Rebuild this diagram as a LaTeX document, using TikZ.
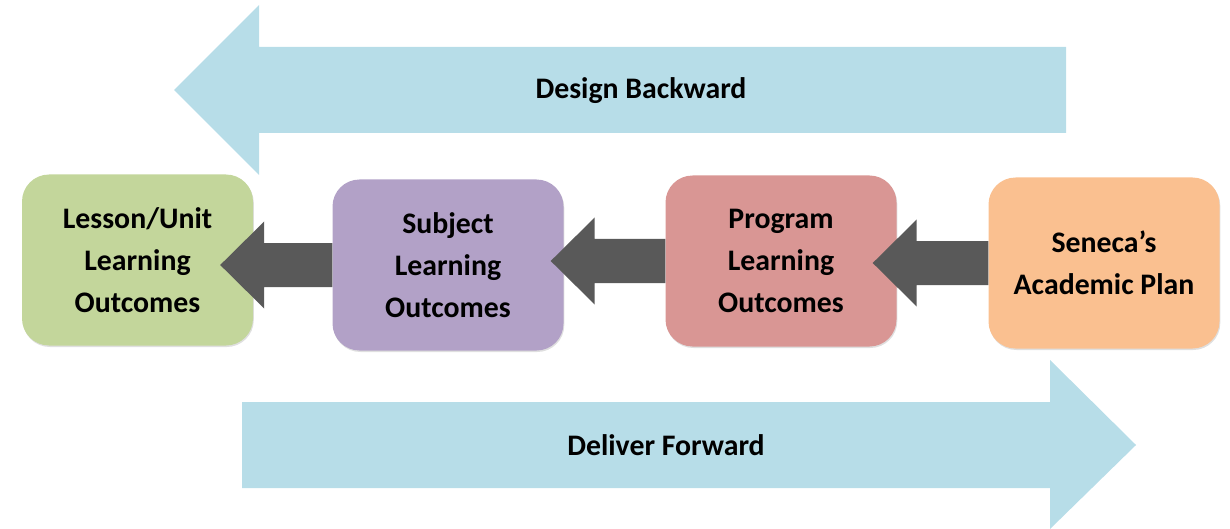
\documentclass[tikz,border=0pt]{standalone}
\usepackage{fontspec}
\setmainfont{Carlito}
\usetikzlibrary{calc,shadows}
\definecolor{lblue}{HTML}{B7DDE8}
\definecolor{bgreen}{HTML}{C3D69B}
\definecolor{bpurple}{HTML}{B2A1C7}
\definecolor{bred}{HTML}{D99694}
\definecolor{borange}{HTML}{FAC090}
\definecolor{darr}{HTML}{595959}
\tikzset{
  box/.style={rounded corners=27pt, minimum width=231pt, minimum height=171pt, align=center,
    font=\bfseries\fontsize{29.8}{42}\selectfont, text=black, inner sep=0pt,
    drop shadow={opacity=0.25, shadow xshift=0.8pt, shadow yshift=-1.5pt}},
  bigarrow/.style={fill=lblue},
  darkarrow/.style={fill=darr},
  lbl/.style={font=\bfseries\fontsize{29.8}{42}\selectfont, text=black}
}
\newcommand{\darrow}[3]{%
  \fill[darkarrow] let \p1=(#1.west), \p2=(#2.east) in
    (\x2-#3,\y1) -- (\x2-#3+44,\y1+43.5) -- (\x2-#3+44,\y1+22) -- (\x1,\y1+22)
    -- (\x1,\y1-22) -- (\x2-#3+44,\y1-22) -- (\x2-#3+44,\y1-43.5) -- cycle;}
\begin{document}
\begin{tikzpicture}[x=1pt,y=-1pt]
\useasboundingbox (0,0) rectangle (1230,529);
% big arrows
\fill[bigarrow] (174,90) -- (259,5) -- (259,47) -- (1066,47) -- (1066,133) -- (259,133) -- (259,175) -- cycle;
\node[lbl] (back) at (641,91) {Design Backward};
\fill[bigarrow] (1136,445) -- (1050,360) -- (1050,402) -- (242,402) -- (242,488) -- (1050,488) -- (1050,529) -- cycle;
\node[lbl] (fwd) at (666,445) {Deliver Forward};
% boxes
\node[box, fill=bgreen] (lesson) at (137.5,260) {Lesson/Unit\\Learning\\Outcomes};
\node[box, fill=bpurple] (subject) at (448,265) {Subject\\Learning\\Outcomes};
\node[box, fill=bred] (program) at (781,261) {Program\\Learning\\Outcomes};
\node[box, fill=borange] (plan) at (1104,263) {Seneca’s\\Academic Plan};
% dark arrows
\darrow{subject}{lesson}{33}
\darrow{program}{subject}{13}
\darrow{plan}{program}{24}
\end{tikzpicture}
\end{document}
